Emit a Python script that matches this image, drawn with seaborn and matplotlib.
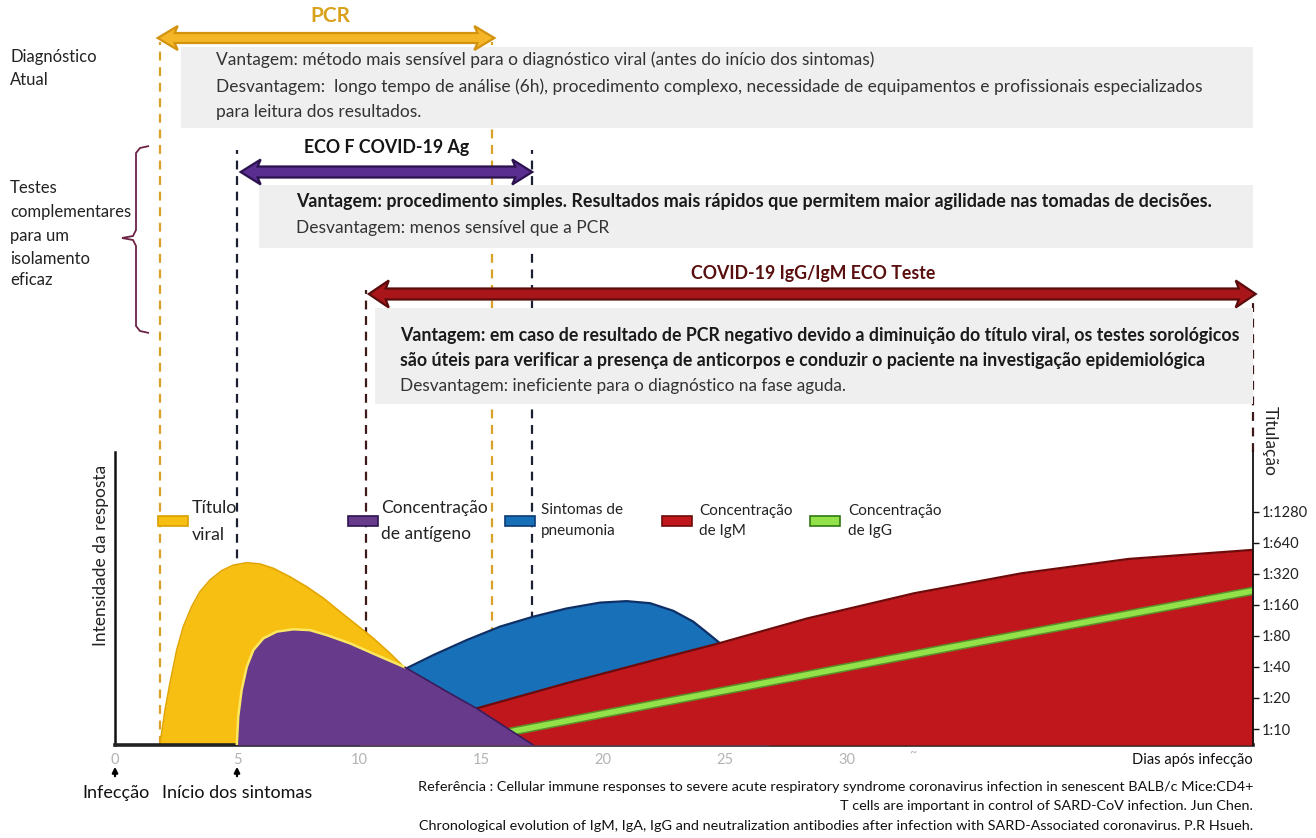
import matplotlib.pyplot as plt
import matplotlib.transforms as mtransforms
from matplotlib.patches import Rectangle, PathPatch
from matplotlib.path import Path
import seaborn as sns

W, H = 1316, 838

# values (days after infection, relative response 0..1)
viral_days = [1.84, 2.05, 2.25, 2.53, 2.80, 3.14, 3.48, 3.89, 4.37, 4.85, 5.40, 5.94, 6.49, 7.17, 7.86,
              8.54, 9.22, 9.90, 10.59, 11.27, 11.89, 13.0, 14.5, 16.0, 17.0]
viral_level = [0.0, 0.119, 0.21, 0.324, 0.404, 0.472, 0.523, 0.563, 0.595, 0.614, 0.622, 0.618, 0.603, 0.574, 0.540,
               0.501, 0.455, 0.410, 0.364, 0.313, 0.262, 0.20, 0.11, 0.04, 0.0]

antigen_days = [4.99, 5.05, 5.19, 5.40, 5.67, 6.08, 6.63, 7.31, 7.99, 8.68, 9.63, 10.72, 11.89, 13.73, 14.82, 17.14]
antigen_level = [0.0, 0.097, 0.188, 0.267, 0.324, 0.364, 0.387, 0.395, 0.392, 0.375, 0.347, 0.307, 0.265, 0.176, 0.125, 0.0]

pneumonia_days = [10.0, 10.8, 11.4, 11.95, 13.05, 14.41, 15.78, 17.14, 18.51, 19.88, 20.97, 21.93, 22.88, 23.70,
                  24.39, 24.80, 25.5, 26.2, 26.8]
pneumonia_level = [0.0, 0.15, 0.23, 0.262, 0.307, 0.358, 0.404, 0.438, 0.466, 0.486, 0.491, 0.484, 0.458, 0.421,
                   0.375, 0.347, 0.25, 0.12, 0.0]

igm_days = [10.0, 12.0, 14.82, 18.51, 22.61, 24.75, 28.37, 32.76, 37.15, 41.54, 46.64]
igm_level = [0.0, 0.06, 0.125, 0.211, 0.301, 0.347, 0.432, 0.518, 0.586, 0.635, 0.666]

igg_days = [16.19, 22.3, 34.3, 46.64]
igg_level = [0.045, 0.143, 0.334, 0.526]

day_ticks = [0, 5, 10, 15, 20, 25, 30]
titer_ticks = [10, 20, 40, 80, 160, 320, 640, 1280]
titer_labels = ['1:10', '1:20', '1:40', '1:80', '1:160', '1:320', '1:640', '1:1280']

# test windows (days)
pcr_window = (1.84, 15.45)
antigen_window = (5.0, 17.1)
serology_window = (10.3, 46.64)

YELLOW, PURPLE, BLUE, RED, GREEN = '#f8bf13', '#673a8c', '#1770b8', '#bf171b', '#93e24a'

sns.set_theme(style='white')
plt.rcParams['font.family'] = ['Lato', 'DejaVu Sans']

fig = plt.figure(figsize=(W / 100, H / 100), dpi=100)
ax = fig.add_axes([115 / W, 1 - 745 / H, (1253 - 115) / W, (745 - 452) / H])
ax.set_xlim(0, (1253 - 115) / 24.4)
ax.set_ylim(0, 1)
ax.patch.set_visible(False)


def fx(px):
    return px / W


def fy(py):
    return 1 - py / H


def ay(py):
    return (745 - py) / 293


# dashed guide lines (drawn behind the curves)
dash = (0, (4, 3))
ax.plot([pcr_window[0]] * 2, [0, ay(42)], ls=dash, color='#d9a128', lw=1.6, clip_on=False, zorder=1)
ax.plot([pcr_window[1]] * 2, [0, ay(42)], ls=dash, color='#d9a128', lw=1.6, clip_on=False, zorder=1)
ax.plot([antigen_window[0]] * 2, [0, ay(150)], ls=dash, color='#1c2033', lw=1.6, clip_on=False, zorder=1)
ax.plot([antigen_window[1]] * 2, [0, ay(150)], ls=dash, color='#1c2033', lw=1.6, clip_on=False, zorder=1)
ax.plot([serology_window[0]] * 2, [0, ay(290)], ls=dash, color='#3d1a1a', lw=1.6, clip_on=False, zorder=1)
ax.plot([serology_window[1]] * 2, [1, ay(298)], ls=dash, color='#3d1a1a', lw=1.6, clip_on=False, zorder=1)

# response curves
ax.fill_between(viral_days, viral_level, color=YELLOW, lw=0, zorder=2)
ax.plot(viral_days, viral_level, color='#e3a600', lw=1.2, zorder=2)
ax.fill_between(pneumonia_days, pneumonia_level, color=BLUE, lw=0, zorder=3)
ax.plot(pneumonia_days, pneumonia_level, color='#0d2f66', lw=1.6, zorder=3)
ax.fill_between(igm_days, igm_level, color=RED, lw=0, zorder=4)
ax.plot(igm_days, igm_level, color='#6e0a0a', lw=1.6, zorder=4)
sns.lineplot(x=igg_days, y=igg_level, ax=ax, color='#5b8f2a', lw=6.2, zorder=5, legend=False)
sns.lineplot(x=igg_days, y=igg_level, ax=ax, color=GREEN, lw=4, zorder=5, legend=False)
ax.fill_between(antigen_days, antigen_level, color=PURPLE, lw=0, zorder=6)
ax.plot(antigen_days[:13], antigen_level[:13], color='#fbe760', lw=1.8, zorder=6)
ax.plot(antigen_days[12:], antigen_level[12:], color='#3a1c5c', lw=1.2, zorder=6)

for s in ['top', 'right']:
    ax.spines[s].set_visible(False)
ax.spines['left'].set_color('#111111')
ax.spines['left'].set_linewidth(1.8)
ax.spines['bottom'].set_color('#222222')
ax.spines['bottom'].set_linewidth(2.6)
ax.set_yticks([])
ax.set_xticks(day_ticks)
ax.set_xticklabels([str(d) for d in day_ticks])
ax.tick_params(axis='x', length=0, pad=6, labelsize=10.5, labelcolor='#b3b3b3')
ax.set_xlabel('')
ax.set_ylabel('')
ax.text(32.7, ay(752), '~', color='#b3b3b3', fontsize=9, ha='center', va='center', clip_on=False)
ax.grid(False)

# titre scale on the right
ax2 = ax.twinx()
ax2.set_yscale('log', base=2)
ax2.set_ylim(7.0, 4830)
ax2.set_yticks(titer_ticks)
ax2.set_yticklabels(titer_labels)
ax2.minorticks_off()
for s in ['top', 'left', 'bottom']:
    ax2.spines[s].set_visible(False)
ax2.spines['right'].set_color('#111111')
ax2.spines['right'].set_linewidth(1.3)
ax2.tick_params(axis='y', right=True, length=4, width=1, color='#111111', labelsize=10.5, labelcolor='#222222', pad=2)
ax2.grid(False)

fig.text(fx(1270), fy(441), 'Titulação', rotation=270, ha='center', va='center', fontsize=12.5, color='#222222')
fig.text(fx(101), fy(555), 'Intensidade da resposta', rotation=90, ha='center', va='center', fontsize=12.5, color='#222222')
fig.text(fx(1253), fy(760), 'Dias após infecção', ha='right', va='center', fontsize=10.5, color='#111111')

# arrows under the axis
for d in [0, 5]:
    ax.annotate('', xy=(d, ay(764)), xytext=(d, ay(779)),
                arrowprops=dict(arrowstyle='-|>', color='black', lw=1.6, mutation_scale=8), annotation_clip=False)
fig.text(fx(116), fy(793), 'Infecção', ha='center', va='center', fontsize=13, color='#111111')
fig.text(fx(237), fy(793), 'Início dos sintomas', ha='center', va='center', fontsize=13, color='#111111')

refs = ['Referência : Cellular immune responses to severe acute respiratory syndrome coronavirus infection in senescent BALB/c Mice:CD4+',
        'T cells are important in control of SARD-CoV infection. Jun Chen.',
        'Chronological evolution of IgM, IgA, IgG and neutralization antibodies after infection with SARD-Associated coronavirus. P.R Hsueh.']
for line, py in zip(refs, [787, 806, 826]):
    fig.text(fx(1253), fy(py), line, ha='right', va='center', fontsize=10.4, color='#111111')

# legend inside the chart
legend_items = [(158, YELLOW, '#d9a000', 192, ['Título', 'viral'], 12.8),
                (348, PURPLE, '#2e1450', 381, ['Concentração', 'de antígeno'], 12.5),
                (505, BLUE, '#0d3b73', 541, ['Sintomas de', 'pneumonia'], 11),
                (662, RED, '#6e0b0b', 699, ['Concentração', 'de IgM'], 11),
                (810, GREEN, '#2f7a12', 848, ['Concentração', 'de IgG'], 11)]
for x0, fc, ec, tx, lines, fs in legend_items:
    fig.add_artist(Rectangle((fx(x0), fy(526)), 30 / W, 10 / H, transform=fig.transFigure,
                             fc=fc, ec=ec, lw=1.2, zorder=3))
    off = 13.5 if fs > 12 else 10.5
    fig.text(fx(tx), fy(521 - off), lines[0], ha='left', va='center', fontsize=fs, color='#222222')
    fig.text(fx(tx), fy(521 + off), lines[1], ha='left', va='center', fontsize=fs, color='#222222')

# grey boxes with pros / cons
for x0, y0, y1 in [(181, 47, 128), (259, 185, 248), (375, 308, 404)]:
    fig.add_artist(Rectangle((fx(x0), fy(y1)), fx(1253) - fx(x0), (y1 - y0) / H,
                             transform=fig.transFigure, fc='#efefef', ec='none', zorder=1))

box_texts = [
    (216, 60, 'Vantagem: método mais sensível para o diagnóstico viral (antes do início dos sintomas)', 'normal', 12.5),
    (216, 87, 'Desvantagem:  longo tempo de análise (6h), procedimento complexo, necessidade de equipamentos e profissionais especializados', 'normal', 12.5),
    (216, 112, 'para leitura dos resultados.', 'normal', 12.5),
    (296, 202, 'Vantagem: procedimento simples. Resultados mais rápidos que permitem maior agilidade nas tomadas de decisões.', 'bold', 12.9),
    (296, 228, 'Desvantagem: menos sensível que a PCR', 'normal', 12.5),
    (400, 335, 'Vantagem: em caso de resultado de PCR negativo devido a diminuição do título viral, os testes sorológicos', 'bold', 12.8),
    (400, 360, 'são úteis para verificar a presença de anticorpos e conduzir o paciente na investigação epidemiológica', 'bold', 12.8),
    (400, 386, 'Desvantagem: ineficiente para o diagnóstico na fase aguda.', 'normal', 12.4),
]
for x0, py, s, wt, fs in box_texts:
    fig.text(fx(x0), fy(py), s, ha='left', va='center', fontsize=fs, fontweight=wt,
             color='#1a1a1a' if wt == 'bold' else '#333333', zorder=3)

# double headed arrows for each test window (x in days, y in figure pixels)
trans = mtransforms.blended_transform_factory(ax.transData, fig.transFigure)


def double_arrow(d0, d1, py, face, edge, shaft, head, hl):
    hd = hl / 24.4
    pts = [(d0, py), (d0 + hd, py - head / 2), (d0 + hd * 0.85, py - shaft / 2), (d1 - hd * 0.85, py - shaft / 2),
           (d1 - hd, py - head / 2), (d1, py), (d1 - hd, py + head / 2), (d1 - hd * 0.85, py + shaft / 2),
           (d0 + hd * 0.85, py + shaft / 2), (d0 + hd, py + head / 2), (d0, py)]
    path = Path([(x, fy(y)) for x, y in pts], closed=True)
    fig.add_artist(PathPatch(path, transform=trans, fc=face, ec=edge, lw=1.6, joinstyle='miter', zorder=4))


double_arrow(1.75, 15.55, 38, '#f4b526', '#d3930f', 10, 24, 20)
double_arrow(5.15, 17.1, 172, '#5a2d91', '#2b124f', 11, 25, 20)
double_arrow(10.4, 46.75, 294, '#a8161a', '#5a0b0b', 11, 27, 20)

fig.text(fx(330), fy(16), 'PCR', ha='center', va='center', fontsize=15, fontweight='bold', color='#d9a21b')
fig.text(fx(387), fy(148), 'ECO F COVID-19 Ag', ha='center', va='center', fontsize=12.8, fontweight='bold', color='#151515')
fig.text(fx(813), fy(274), 'COVID-19 IgG/IgM ECO Teste', ha='center', va='center', fontsize=12.8, fontweight='bold', color='#5a0f0f')

# row labels on the left
fig.text(fx(10), fy(57), 'Diagnóstico', ha='left', va='center', fontsize=12, color='#222222')
fig.text(fx(10), fy(80), 'Atual', ha='left', va='center', fontsize=12, color='#222222')
for s, py in zip(['Testes', 'complementares', 'para um', 'isolamento', 'eficaz'], [188, 212, 236, 259, 280]):
    fig.text(fx(10), fy(py), s, ha='left', va='center', fontsize=12, color='#222222')

brace_pts = [(149, 146), (140, 148), (136, 153), (136, 230), (133, 236), (122, 238), (133, 240),
             (136, 246), (136, 326), (140, 331), (149, 333)]
brace = Path([(fx(x), fy(y)) for x, y in brace_pts])
fig.add_artist(PathPatch(brace, transform=fig.transFigure, fc='none', ec='#6b2346', lw=1.3))

fig.savefig('out.png', dpi=100)
